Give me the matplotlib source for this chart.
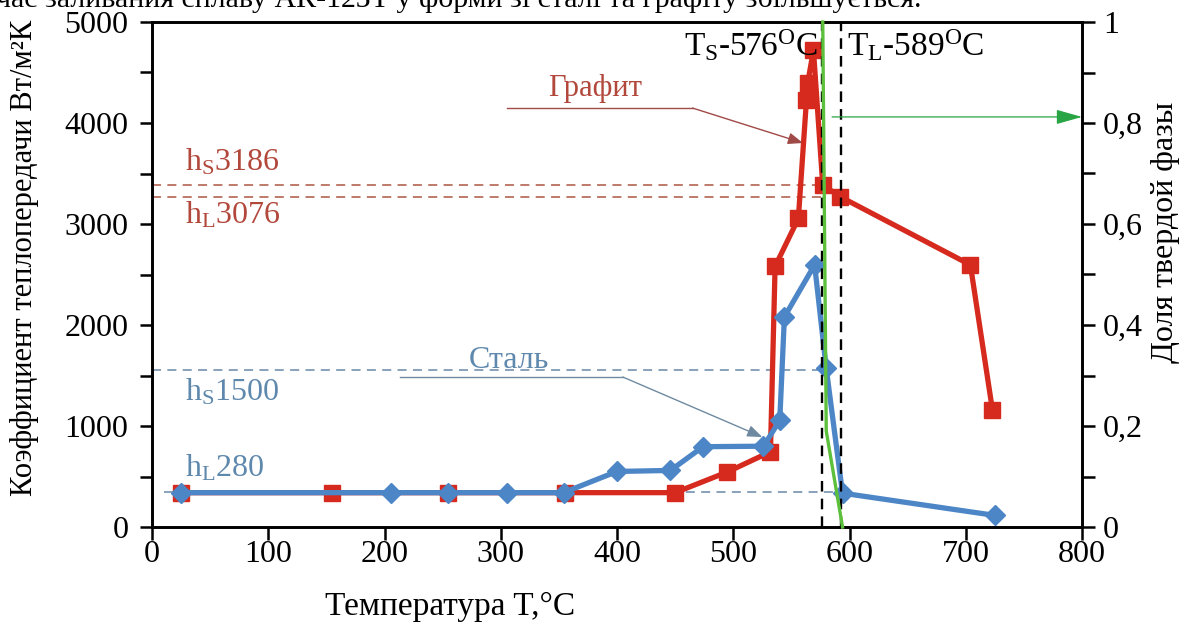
import numpy as np
import matplotlib.pyplot as plt
from matplotlib.ticker import MultipleLocator, FuncFormatter

plt.rcParams['font.family'] = ['Liberation Serif', 'DejaVu Serif']
plt.rcParams['mathtext.fontset'] = 'custom'
plt.rcParams['mathtext.rm'] = 'Liberation Serif'
plt.rcParams['mathtext.it'] = 'Liberation Serif:italic'

# graphite mould (squares)
t_graphite = [25, 155, 255, 355, 450, 495, 532, 536, 556, 563, 564, 569, 577, 592, 704, 723]
h_graphite = [340, 340, 340, 340, 340, 545, 745, 2580, 3055, 4230, 4395, 4720, 3385, 3270, 2595, 1155]

# steel mould (diamonds)
t_steel = [25, 206, 255, 305, 354, 400, 446, 474, 526, 540, 544, 570, 580, 594, 725]
h_steel = [340, 340, 340, 340, 340, 550, 560, 795, 800, 1055, 2080, 2595, 1570, 335, 115]

# solid fraction curve (right axis)
t_solid = [577, 580, 594]
f_solid = [1.0, 0.19, 0.0]

t_solidus = 576
t_liquidus = 593
h_graphite_levels = [3385, 3268]
h_steel_levels = [1552, 345]

red = '#d62a1e'
blue = '#4d86c6'
green = '#5cc03c'

fig = plt.figure(figsize=(12.01, 6.28), dpi=100)
ax = fig.add_axes([152/1201, 1-527/628, (1082-152)/1201, (527-22)/628])
ax2 = ax.twinx()

# horizontal reference levels
for h in h_graphite_levels:
    ax.plot([0, 576], [h, h], ls=(0, (5, 3.5)), color='#b9705f', lw=1.3, zorder=2)
ax.plot([0, 580], [h_steel_levels[0]]*2, ls=(0, (5, 3.5)), color='#7f9bb5', lw=1.3, zorder=2)
ax.plot([10, 588], [h_steel_levels[1]]*2, ls=(0, (5, 3.5)), color='#7f9bb5', lw=1.3, zorder=2)

ax.plot(t_graphite, h_graphite, color=red, lw=3.8, marker='s', ms=11, zorder=3)
ax.plot(t_steel, h_steel, color=blue, lw=3.8, marker='D', ms=10, zorder=4)

for t in [t_solidus, t_liquidus]:
    ax.axvline(t, color='black', ls=(0, (4.5, 3)), lw=1.7, zorder=5)

ax.set_xlim(0, 800)
ax.set_ylim(0, 5000)
ax.xaxis.set_major_locator(MultipleLocator(100))
ax.yaxis.set_major_locator(MultipleLocator(1000))
ax.yaxis.set_minor_locator(MultipleLocator(500))

ax2.plot(t_solid, f_solid, color=green, lw=2.4, zorder=6, clip_on=False)
ax2.set_ylim(0, 1)
ax2.yaxis.set_major_locator(MultipleLocator(0.2))
ax2.yaxis.set_minor_locator(MultipleLocator(0.1))
ax2.yaxis.set_major_formatter(FuncFormatter(lambda v, p: ('%g' % round(v, 1)).replace('.', ',')))
ax2.annotate('', xy=(800, 0.812), xytext=(585, 0.812),
             arrowprops=dict(arrowstyle='-|>,head_length=1.6,head_width=0.45',
                             color='#2aa545', lw=0.9, shrinkA=0, shrinkB=0))

for a in [ax, ax2]:
    for s in a.spines.values():
        s.set_linewidth(1.9)
    a.tick_params(which='both', direction='out', width=1.8, labelsize=23)
    a.tick_params(which='major', length=9)
    a.tick_params(which='minor', length=9)
ax.tick_params(axis='y', pad=8)
ax.tick_params(axis='x', pad=0)
ax2.tick_params(axis='y', pad=6)

# annotations
tc_red = '#b2483c'
tc_blue = '#5f88ad'
ax.text(28, 3614, r'h$_\mathrm{S}$3186', color=tc_red, fontsize=23, va='center')
ax.text(28, 3089, r'h$_\mathrm{L}$3076', color=tc_red, fontsize=23, va='center')
ax.text(28, 1337, r'h$_\mathrm{S}$1500', color=tc_blue, fontsize=23, va='center')
ax.text(28, 584, r'h$_\mathrm{L}$280', color=tc_blue, fontsize=23, va='center')
ax.text(573, 4772, r'T$_\mathrm{S}$-576$^\mathrm{O}$C', fontsize=24, va='center', ha='right')
ax.text(598, 4772, r'T$_\mathrm{L}$-589$^\mathrm{O}$C', fontsize=24, va='center', ha='left')

ax.text(381, 4346, 'Графит', color=tc_red, fontsize=22, ha='center', va='center')
ax.plot([305, 465], [4148, 4148], color='#a04a48', lw=1.0, zorder=2)
ax.annotate('', xy=(560, 3802), xytext=(465, 4148),
            arrowprops=dict(arrowstyle='-|>,head_length=0.9,head_width=0.35',
                            color='#a04a48', lw=1.0, shrinkA=0, shrinkB=0))

ax.text(307, 1650, 'Сталь', color=tc_blue, fontsize=23, ha='center', va='center')
ax.plot([213, 405], [1485, 1485], color='#6f8aa0', lw=1.0, zorder=2)
ax.annotate('', xy=(525, 891), xytext=(405, 1485),
            arrowprops=dict(arrowstyle='-|>,head_length=0.9,head_width=0.35',
                            color='#6f8aa0', lw=1.0, shrinkA=0, shrinkB=0))

fig.text(25/1201, 1-258/628, 'Коэффициент теплопередачи Вт/м²К', rotation=90,
         fontsize=22, ha='center', va='center')
fig.text(450/1201, 1-607/628, 'Температура T,°C', fontsize=24, ha='center', va='center')
fig.text(1165/1201, 1-232/628, 'Доля твердой фазы', rotation=90,
         fontsize=23, ha='center', va='center')

# cropped line of body text above the chart
fig.text(-0.003, 1-7/628, 'час заливания сплаву АК-12ЗТ у форми зі сталі та графіту збільшується.',
         fontsize=21.5, ha='left', va='baseline')

fig.savefig('out.png', dpi=100)
